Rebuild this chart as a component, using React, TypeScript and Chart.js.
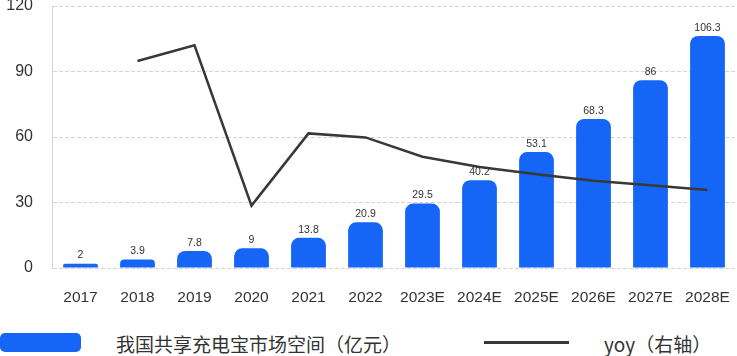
import React, { useEffect, useRef } from 'react';
import { Chart, registerables } from 'chart.js';

Chart.register(...registerables);

const categories = ['2017', '2018', '2019', '2020', '2021', '2022', '2023E', '2024E', '2025E', '2026E', '2027E', '2028E'];
const marketSize = [2, 3.9, 7.8, 9, 13.8, 20.9, 29.5, 40.2, 53.1, 68.3, 86, 106.3];
const yoy = [null, 91.7, 100, 15.4, 53.5, 51.4, 41.2, 35.8, 31.9, 28.5, 26.2, 23.7];
const leftMin = 0;
const leftMax = 120;
const leftStep = 30;
const rightMin = -17.5;
const rightMax = 120.7;
const barLabel = '我国共享充电宝市场空间（亿元）';
const lineLabel = 'yoy（右轴）';

const BLUE = '#1565F6';
const DARK = '#333333';
const LINE = '#3a3835';
const GRID = '#d4d4d4';

const valueLabels = {
  id: 'valueLabels',
  afterDatasetsDraw(chart: any) {
    const ctx = chart.ctx;
    const meta = chart.getDatasetMeta(1);
    ctx.save();
    ctx.font = '10.5px "Liberation Sans", Arial, sans-serif';
    ctx.fillStyle = DARK;
    ctx.textAlign = 'center';
    ctx.textBaseline = 'bottom';
    meta.data.forEach((el: any, i: number) => {
      ctx.fillText(String(marketSize[i]), el.x, el.y - 3);
    });
    ctx.restore();
  },
};

export default function App() {
  const ref = useRef<HTMLCanvasElement>(null);

  useEffect(() => {
    if (!ref.current) return;
    const chart = new Chart(ref.current, {
      type: 'bar',
      data: {
        labels: categories,
        datasets: [
          {
            type: 'line',
            label: lineLabel,
            data: yoy as any,
            yAxisID: 'y1',
            borderColor: LINE,
            backgroundColor: LINE,
            borderWidth: 2.5,
            pointRadius: 0,
            tension: 0,
            order: 0,
          } as any,
          {
            type: 'bar',
            label: barLabel,
            data: marketSize,
            yAxisID: 'y',
            backgroundColor: BLUE,
            borderRadius: { topLeft: 8, topRight: 8, bottomLeft: 0, bottomRight: 0 },
            borderSkipped: 'bottom',
            barPercentage: 0.61,
            categoryPercentage: 1,
            order: 1,
          } as any,
        ],
      },
      options: {
        animation: false,
        responsive: false,
        devicePixelRatio: 1,
        layout: { autoPadding: false, padding: { top: 6, right: 1, bottom: 0, left: 0 } },
        plugins: {
          legend: { display: false },
          tooltip: { enabled: false },
        },
        scales: {
          x: {
            grid: { display: false, drawTicks: false },
            border: { display: false },
            ticks: {
              color: DARK,
              padding: 20,
              font: { family: '"Liberation Sans", Arial, sans-serif', size: 15.5 },
              maxRotation: 0,
              minRotation: 0,
              autoSkip: false,
            },
            afterFit(scale: any) {
              scale.height = 44;
              scale.paddingLeft = 0;
              scale.paddingRight = 0;
            },
          } as any,
          y: {
            position: 'left',
            min: leftMin,
            max: leftMax,
            grid: { color: GRID, drawTicks: false, lineWidth: 1 },
            border: { display: true, color: GRID, dash: [4, 2] },
            ticks: {
              stepSize: leftStep,
              color: DARK,
              padding: 19,
              font: { family: '"Liberation Sans", Arial, sans-serif', size: 16 },
            },
            afterFit(scale: any) {
              scale.width = 52;
              scale.paddingTop = 0;
              scale.paddingBottom = 0;
            },
          } as any,
          y1: {
            position: 'right',
            display: false,
            min: rightMin,
            max: rightMax,
          },
        },
      },
      plugins: [valueLabels],
    } as any);
    return () => chart.destroy();
  }, []);

  const legendText: React.CSSProperties = {
    position: 'absolute',
    top: 333,
    height: 21,
    lineHeight: '21px',
    fontSize: 19,
    color: DARK,
    fontFamily: '"Noto Sans CJK SC", "Noto Sans", sans-serif',
    whiteSpace: 'nowrap',
  };

  return (
    <div style={{ position: 'absolute', left: 0, top: 0, width: 737, height: 356, background: '#fff', overflow: 'hidden' }}>
      <canvas ref={ref} width={737} height={312} style={{ display: 'block', width: 737, height: 312 }} />
      <div style={{ position: 'absolute', left: 0, top: 333, width: 81, height: 19, borderRadius: 5, background: BLUE }} />
      <div style={{ ...legendText, left: 116 }}>{barLabel}</div>
      <div style={{ position: 'absolute', left: 484, top: 340.5, width: 85, height: 3, background: LINE }} />
      <div style={{ ...legendText, left: 604 }}>{lineLabel}</div>
    </div>
  );
}
